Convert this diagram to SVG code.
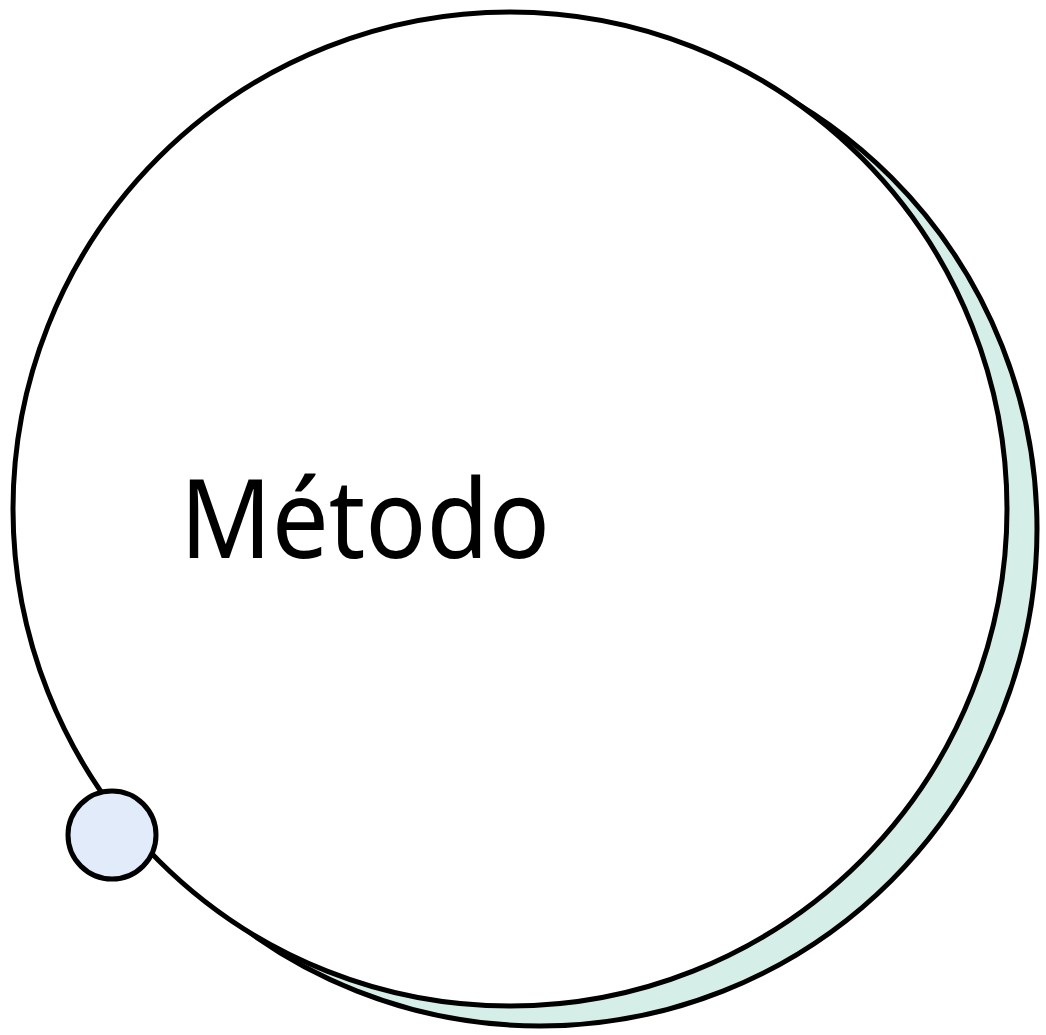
<svg xmlns="http://www.w3.org/2000/svg" width="1046" height="1035" viewBox="0 0 1046 1035">
<style>
.ln{stroke:#000;stroke-width:5}
.lbl{font-family:"Noto Sans","Open Sans","DejaVu Sans",sans-serif;font-size:110px;fill:#000}
</style>
<rect width="1046" height="1035" fill="#fff"/>
<g id="shadow"><circle class="ln" cx="540" cy="529" r="497" fill="#D5EFE8"/></g>
<g id="main"><circle class="ln" cx="510" cy="509" r="497" fill="#fff"/>
<text class="lbl" x="180" y="558" textLength="370" lengthAdjust="spacingAndGlyphs">Método</text></g>
<g id="connectors"></g>
<g id="dot"><circle class="ln" cx="112" cy="835" r="44" fill="#E1EBF9"/></g>
</svg>
